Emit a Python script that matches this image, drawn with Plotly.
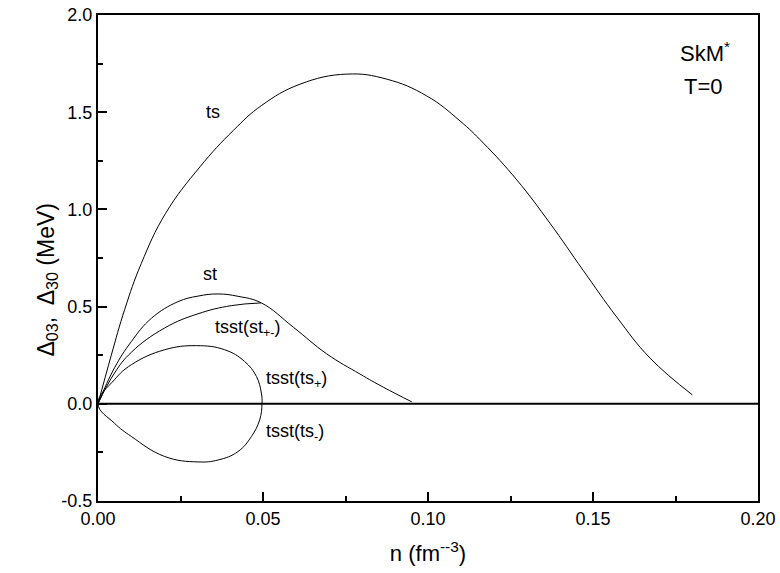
import plotly.graph_objects as go

# ---- data ----
ts_n = [0, 0.004, 0.0081, 0.0131, 0.0205, 0.0309, 0.041, 0.0496, 0.0612, 0.0754,
        0.0875, 0.0996, 0.1097, 0.1168, 0.1269, 0.137, 0.147, 0.1572, 0.1673, 0.1801]
ts_y = [0, 0.248, 0.486, 0.721, 0.98, 1.219, 1.406, 1.535, 1.644, 1.696,
        1.67, 1.584, 1.455, 1.341, 1.152, 0.928, 0.687, 0.446, 0.235, 0.046]

st_n = [0, 0.005, 0.0101, 0.0162, 0.0242, 0.0303, 0.0364, 0.0424, 0.0495,
        0.0592, 0.0693, 0.0794, 0.0865, 0.0951]
st_y = [0, 0.185, 0.32, 0.44, 0.525, 0.554, 0.565, 0.553, 0.519,
        0.394, 0.257, 0.153, 0.085, 0.01]

stpm_n = [0, 0.005, 0.0101, 0.0202, 0.0303, 0.0404, 0.0495]
stpm_y = [0, 0.158, 0.265, 0.39, 0.463, 0.505, 0.519]

tsp_n = [0, 0.005, 0.0101, 0.0202, 0.0298, 0.0384, 0.0444, 0.048, 0.0495, 0.0497]
tsp_y = [0, 0.124, 0.201, 0.278, 0.299, 0.278, 0.218, 0.141, 0.055, 0.0]

tsm_n = [0, 0.005, 0.0101, 0.0202, 0.0303, 0.0364, 0.0424, 0.0465, 0.049, 0.0497]
tsm_y = [0, -0.1, -0.168, -0.271, -0.299, -0.289, -0.246, -0.168, -0.082, 0.0]

x_ticks = [0.00, 0.05, 0.10, 0.15, 0.20]
x_labels = ["0.00", "0.05", "0.10", "0.15", "0.20"]
y_ticks = [-0.5, 0.0, 0.5, 1.0, 1.5, 2.0]
y_labels = ["-0.5", "0.0", "0.5", "1.0", "1.5", "2.0"]

FONT = "Liberation Sans"

fig = go.Figure()
line = dict(color="black", width=1, shape="spline", smoothing=1.2)

# closed tsst(ts+/-) loop drawn as one path (upper branch out, lower branch back)
loop_n = tsp_n + tsm_n[::-1][1:]
loop_y = tsp_y + tsm_y[::-1][1:]

for xs, ys in [(ts_n, ts_y), (st_n, st_y), (stpm_n, stpm_y), (loop_n, loop_y)]:
    fig.add_trace(go.Scatter(x=xs, y=ys, mode="lines", line=line, showlegend=False, hoverinfo="skip"))

# zero line
fig.add_trace(go.Scatter(x=[0, 0.2], y=[0, 0], mode="lines",
                         line=dict(color="black", width=2), showlegend=False, hoverinfo="skip"))

labels = [
    (0.0348, 1.50, "ts", 18),
    (0.0338, 0.67, "st", 18),
    (0.0455, 0.386, "tsst(st<sub>+-</sub>)", 18),
    (0.0602, 0.127, "tsst(ts<sub>+</sub>)", 18),
    (0.0597, -0.148, "tsst(ts<sub>-</sub>)", 18),
    (0.1838, 1.81, "SkM<sup>*</sup>", 22),
    (0.1836, 1.63, "T=0", 22),
]
for x, y, t, s in labels:
    fig.add_annotation(x=x, y=y, text=t, showarrow=False,
                       font=dict(family=FONT, size=s, color="black"))

# y-axis title as rotated text
fig.add_annotation(xref="paper", yref="paper", x=(30 - 98) / 660, y=(501 - 280) / 486,
                   text="Δ<sub>03</sub>,  Δ<sub>30</sub> (MeV)", textangle=-90, showarrow=False,
                   font=dict(family=FONT, size=23, color="black"))

axis_common = dict(
    showgrid=False, zeroline=False, showline=True, linecolor="black", linewidth=2,
    mirror=True, ticks="inside", ticklen=9, tickwidth=1.5, tickcolor="black",
    tickfont=dict(family=FONT, size=18, color="black"), automargin=False,
)
fig.update_xaxes(range=[0, 0.2], tickvals=x_ticks, ticktext=x_labels,
                 minor=dict(ticks="inside", ticklen=5, tickwidth=1.5, tickcolor="black", dtick=0.025),
                 title=dict(text="n (fm<sup>--3</sup>)", font=dict(family=FONT, size=22, color="black"), standoff=18),
                 **axis_common)
fig.update_yaxes(range=[-0.5, 2.0], tickvals=y_ticks, ticktext=y_labels,
                 minor=dict(ticks="inside", ticklen=5, tickwidth=1.5, tickcolor="black", dtick=0.25),
                 **axis_common)

fig.update_layout(
    width=780, height=573, plot_bgcolor="white", paper_bgcolor="white",
    margin=dict(l=98, r=22, t=15, b=72),
    font=dict(family=FONT, color="black"),
)
fig.write_html("out.html", config={"displayModeBar": False},
               post_script="document.body.style.margin='0';document.body.style.overflow='hidden';")
